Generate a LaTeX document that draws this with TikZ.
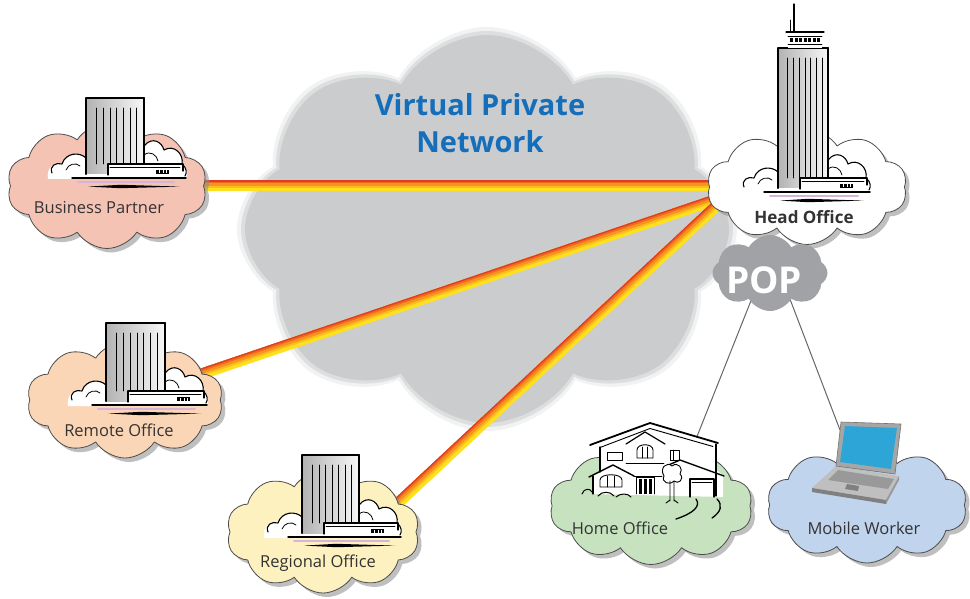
\documentclass[tikz,border=0pt]{standalone}
\usepackage{fontspec}
\setmainfont{Open Sans}
\usetikzlibrary{shapes.symbols,shadows,calc}

\definecolor{vpngray}{RGB}{203,204,206}
\definecolor{vpnblue}{RGB}{20,110,185}
\definecolor{bpfill}{RGB}{245,195,180}
\definecolor{rofill}{RGB}{251,214,182}
\definecolor{rgfill}{RGB}{253,241,192}
\definecolor{popgray}{RGB}{160,162,165}
\definecolor{homefill}{RGB}{198,226,190}
\definecolor{mobfill}{RGB}{192,212,238}
\definecolor{lnY}{RGB}{255,224,30}
\definecolor{lnYO}{RGB}{252,190,30}
\definecolor{lnO}{RGB}{247,148,29}
\definecolor{lnOR}{RGB}{240,105,32}
\definecolor{lnR}{RGB}{222,60,35}
\definecolor{screenblue}{RGB}{45,165,215}

% a glowing tunnel from one point to another: red on the upper side, yellow below
\newcommand\vpnlink[2]{%
  \foreach \o/\w/\c in {0/11/lnY, 1.75/7.5/lnYO, 2.75/5.5/lnO, 4/3/lnOR, 4.9/1.2/lnR}{%
    \draw[line width=\w pt, \c, line cap=butt]
      ($(#1)!\o pt!90:(#2)$) -- ($(#2)!\o pt!-90:(#1)$);
  }}

\tikzset{
  bigcloud/.style={cloud, cloud puffs=8, cloud puff arc=120, cloud ignores aspect,
    fill=vpngray, draw=none, inner sep=0pt},
  site/.style={cloud, cloud puffs=10, cloud puff arc=115, cloud ignores aspect,
    draw=black!70, line width=0.8pt, inner sep=0pt,
    drop shadow={shadow xshift=4pt, shadow yshift=-4pt, fill=black!45, opacity=0.55}},
  lbl/.style={font=\fontsize{16.5}{20}\selectfont, text=black!80},
  popline/.style={draw=black!60, line width=1pt},
  % office block standing on its own little cloud; origin = foot of the left wall
  pics/office/.style args={#1/#2}{code={
    \fill[white] (-38,5) .. controls (-40,-6) and (-32,-12) .. (-24,-10)
      .. controls (-20,-22) and (-6,-22) .. (0,-16) -- (#1,-28)
      .. controls (#1+8,-38) and (#1+18,-32) .. (#1+20,-24)
      .. controls (#1+30,-30) and (#1+40,-20) .. (#1+38,-10)
      .. controls (#1+44,-6) and (#1+44,0) .. (#1+42,5) -- cycle;
    \draw[line width=1.1pt] (-34,-1) .. controls (-37,-8) and (-30,-12) .. (-24,-10)
      .. controls (-20,-22) and (-6,-22) .. (0,-16);
    \draw[line width=0.8pt] (-20,-4) .. controls (-18,-10) and (-10,-12) .. (-6,-8);
    \draw[line width=1.1pt] (#1,-28) .. controls (#1+8,-38) and (#1+18,-32) .. (#1+20,-24)
      .. controls (#1+30,-30) and (#1+40,-20) .. (#1+38,-10)
      .. controls (#1+43,-6) and (#1+43,-1) .. (#1+41,2);
    \draw[line width=0.8pt] (#1,-19) .. controls (#1+6,-24) and (#1+13,-19) .. (#1+14,-13);
    \shade[left color=black!30, right color=black!3] (0,0) rectangle (#1,-#2);
    \foreach \k in {1,...,7}
      \draw[line width=0.9pt] (\k*#1/8.7+4,-#2+10) -- (\k*#1/8.7+4,-10);
    \draw[line width=2.2pt] (0,0) -- (0,-#2) -- (#1,-#2);
    \draw[line width=1.2pt] (#1,-#2) -- (#1,-9);
    \fill[white] (22,-10) rectangle (#1+39,1);
    \draw[line width=1.3pt] (22,1) -- (22,-10) -- (#1+39,-10) -- (#1+39,-3);
    \draw[line width=0.7pt] (24,-6.5) -- (#1+36,-6.5);
    \fill (#1+12,-4) rectangle (#1+25,0);
    \foreach \t in {15,18.5,22} \fill[white] (#1+\t,-3.5) rectangle ++(1.2,3);
    \draw[violet!30, line width=2pt] (-8,8) -- (#1+30,8);
    \draw[line width=1.5pt] (-14,4) -- (#1+42,4);
    \fill (2,12.6) -- (#1*0.6,10.8) -- (#1+36,12.6) -- (#1*0.6,14.2) -- cycle;
  }}
}

\begin{document}
\begin{tikzpicture}[x=1pt, y=-1pt, line join=round, line cap=round]
\useasboundingbox (0,0) rectangle (970,599);
\fill[white] (0,0) rectangle (970,599);

% ---- the shared network cloud, with a soft rim ----
\node[bigcloud, opacity=0.25, minimum width=500, minimum height=404] at (487,229) {};
\node[bigcloud, opacity=0.5, minimum width=492, minimum height=396] at (487,229) {};
\node[bigcloud, minimum width=484, minimum height=388] (vpn) at (487,229) {};
\node[font=\fontsize{29}{37}\selectfont\bfseries, text=vpnblue, align=center]
  (vpnlabel) at (480,123) {Virtual Private\\Network};

% ---- anchor points of the links ----
\coordinate (hub) at (727,196);
\coordinate (rgport) at (380,520);
\coordinate (homeport) at (697,436.5);
\coordinate (mobport) at (840,430);
\path (107,186) coordinate (bpc) (125,400) coordinate (roc);

% ---- VPN tunnels ----
\vpnlink{bpc}{bpc -| hub}
\vpnlink{roc}{hub}
\vpnlink{rgport}{hub}

% ---- access lines from the POP ----
\coordinate (popc) at (770,273);
\draw[popline] ($(popc)+(-8,0)$) -- (homeport);
\draw[popline] ($(popc)+(10,0)$) -- (mobport);

% ---- sites ----
\node[site, fill=bpfill, minimum width=200, minimum height=125] (bp) at (bpc) {};
\node[site, fill=rofill, minimum width=196, minimum height=116] (ro) at (roc) {};
\node[site, fill=rgfill, minimum width=193, minimum height=122] (rg) at (323,532) {};
\node[site, fill=white, minimum width=200, minimum height=115] (ho) at (807,187) {};
\node[cloud, cloud puffs=8, cloud puff arc=120, cloud ignores aspect, fill=popgray,
  inner sep=0pt, minimum width=115, minimum height=76] (pop) at (popc) {};
\node[site, fill=homefill, minimum width=203, minimum height=117] (home) at (651,506) {};
\node[site, fill=mobfill, minimum width=200, minimum height=116] (mob) at (867,505) {};

% ---- office buildings ----
\pic at (86,174) {office=58/76};
\pic at (106,401) {office=59/78};
\pic at (302,533) {office=57/78};
\pic at (778,188) {office=50/140};
% crown and mast of the headquarters tower
\fill[white] (788,32) rectangle (822,48);
\draw[line width=1.2pt] (786,32) -- (824,32);
\draw[line width=0.7pt] (788,36) -- (822,36);
\foreach \x in {790,794.5,...,818} \fill (\x,38.5) rectangle ++(3,4);
\draw[line width=0.8pt] (788,44) -- (822,44);
\draw[line width=1.2pt] (794,4) -- (794,32);
\draw[line width=0.8pt] (790.5,20) -- (790.5,32);

% ---- house ----
\fill[white] (593,494) -- (593,476) -- (600,472) -- (600,446) -- (591,445) -- (650,423)
  -- (718,443) -- (716,444) -- (716,470) -- (723,475) -- (723,497) -- cycle;
\draw[line width=1.8pt] (590,445) -- (650,423) -- (718,443);
\draw[line width=0.9pt] (600,447.5) -- (650,428.5) -- (713,446.5);
\draw[line width=1.2pt] (626,444) -- (645,432) -- (665,444);
\draw[line width=1.2pt] (600,447) -- (600,472);
\draw[line width=1.2pt] (716,444) -- (716,496);
\draw[line width=0.9pt] (626,463.5) -- (664,463.5);
\draw[line width=0.9pt] (607,452) rectangle (622,460);
\draw[line width=0.9pt] (637,458) -- (637,450) .. controls (637,443) and (653,443) .. (653,450) -- (653,458) -- cycle;
\draw[line width=0.8pt] (642.5,447) -- (642.5,458) (647.5,447) -- (647.5,458);
\draw[line width=0.9pt] (670,450) rectangle (679,460);
\draw[line width=0.8pt] (673.5,450) -- (673.5,460);
\draw[line width=1.4pt] (589,477) -- (613,465) -- (634,476);
\draw[line width=1.2pt] (593,476) -- (593,494);
\draw[line width=0.9pt] (600,487) -- (600,480) .. controls (600,473) and (622,473) .. (622,480) -- (622,487) -- cycle;
\draw[line width=0.8pt] (607,476) -- (607,487) (614.5,476) -- (614.5,487);
\draw[line width=0.9pt] (636,494) -- (636,477) -- (654,477) -- (654,494);
\foreach \x in {638.5,643.5,648.5} \fill (\x,479) rectangle ++(3.6,15);
\draw[line width=1.4pt] (664,467) -- (680,460) -- (724,476);
\draw[line width=0.9pt] (634,476) -- (662,476);
\draw[line width=1.1pt] (690,497) -- (690,479) -- (714,479) -- (714,497);
\draw[line width=0.6pt] (692,482) -- (712,482);
\fill[white] (664,476) .. controls (659,468) and (667,461) .. (672,466)
  .. controls (678,461) and (684,469) .. (680,474) .. controls (685,479) and (678,485) .. (674,481)
  .. controls (669,486) and (661,482) .. (664,476);
\draw[line width=0.9pt] (664,476) .. controls (659,468) and (667,461) .. (672,466)
  .. controls (678,461) and (684,469) .. (680,474) .. controls (685,479) and (678,485) .. (674,481)
  .. controls (669,486) and (661,482) .. (664,476);
\draw[line width=0.9pt] (670,481) -- (670,501) (674,481) -- (674,501) (666,503) -- (670,500) (678,503) -- (674,500);
\draw[line width=1pt] (582,494) .. controls (584,488) and (590,488) .. (592,492);
\draw[line width=1pt] (598,496) .. controls (602,491) and (610,491) .. (614,496);
\draw[line width=1pt] (616,497) .. controls (620,493) and (628,493) .. (631,497);
\draw[line width=1.3pt] (696,499) .. controls (701,506) and (694,513) .. (676,519);
\draw[line width=1.3pt] (717,499) .. controls (723,505) and (721,512) .. (712,518);

% ---- laptop ----
\fill[black!25] (836,466) -- (899,476) -- (886,500) -- (812,488) -- cycle;
\fill[black!50] (812,488) -- (886,500) -- (886,504) -- (812,492) -- cycle;
\fill[black!40] (899,476) -- (886,500) -- (886,504) -- (899,480) -- cycle;
\fill[black!40] (838,470) -- (894,479) -- (888,489) -- (828,480) -- cycle;
\fill[black!50] (847,484) -- (859,486) -- (858,491) -- (845,489) -- cycle;
\fill[black!35] (841,422) -- (901,424) -- (895,474) -- (836,466) -- cycle;
\draw[black!55, line width=0.6pt] (841,422) -- (901,424) -- (895,474) -- (836,466) -- cycle;
\fill[screenblue] (845,426) -- (897,428) -- (891,469) -- (840,462) -- cycle;

% ---- labels ----
\node[lbl] (bplabel) at (99,208) {Business Partner};
\node[lbl] (rolabel) at (119,430) {Remote Office};
\node[lbl] (rglabel) at (318,563) {Regional Office};
\node[lbl, font=\fontsize{17}{20}\selectfont\bfseries] (holabel) at (804,217) {Head Office};
\node[font=\fontsize{37}{40}\selectfont\bfseries, text=white] (poplabel) at (764,280) {POP};
\node[lbl] (homelabel) at (620,528) {Home Office};
\node[lbl] (moblabel) at (864,528) {Mobile Worker};
\end{tikzpicture}
\end{document}
